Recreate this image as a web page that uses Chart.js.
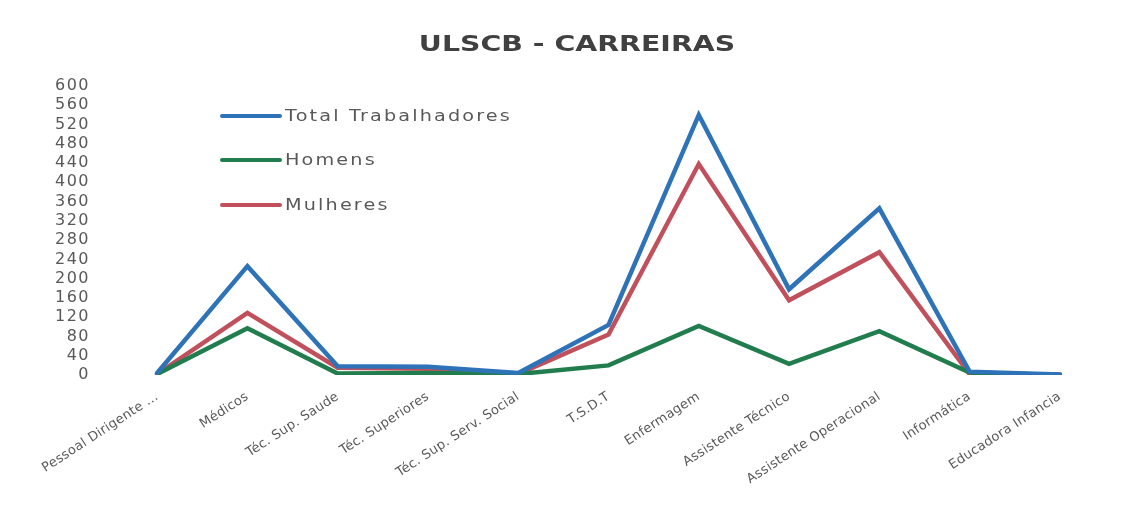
<!DOCTYPE html>
<html>
<head>
<meta charset="utf-8">
<script src="https://cdn.jsdelivr.net/npm/chart.js@4.4.1/dist/chart.umd.min.js"></script>
<style>
  html, body { margin: 0; padding: 0; background: #fff; }
  #wrap { width: 1128px; height: 516px; }
</style>
</head>
<body>
<div id="wrap"><canvas id="carreiras" width="1128" height="516"></canvas></div>
<script>
// data
const categories = ['Pessoal Dirigente ...', 'Médicos', 'Téc. Sup. Saude', 'Téc. Superiores', 'Téc. Sup. Serv. Social',
  'T.S.D.T', 'Enfermagem', 'Assistente Técnico', 'Assistente Operacional', 'Informática', 'Educadora Infancia'];
const totalTrabalhadores = [4, 226, 18, 17, 4, 104, 540, 178, 346, 7, 1];
const homens = [2, 97, 3, 4, 2, 20, 102, 23, 91, 5, 0];
const mulheres = [2, 129, 15, 13, 2, 84, 438, 155, 255, 2, 1];
const yTicks = [0, 40, 80, 120, 160, 200, 240, 280, 320, 360, 400, 440, 480, 520, 560, 600];
const chartTitle = 'ULSCB - CARREIRAS';

const textGrey = '#595959';

// the original text is wide-set, so axis labels get a bit of letter spacing
function spaceLabels(scale, spacing) {
  if (scale._spaced) return;
  const orig = scale.drawLabels;
  scale.drawLabels = function (area) {
    const ctx = this.ctx;
    ctx.save();
    ctx.letterSpacing = spacing;
    orig.call(this, area);
    ctx.restore();
  };
  scale._spaced = true;
}

// text stretched sideways like the (wide) original
function wideText(ctx, text, x, y, sx, spacing) {
  ctx.save();
  ctx.translate(x, y);
  ctx.scale(sx, 1);
  ctx.letterSpacing = spacing || '0px';
  ctx.fillText(text, 0, 0);
  ctx.restore();
}

// title + legend drawn by hand, stacked legend sits inside the plot
const titleAndLegend = {
  id: 'titleAndLegend',
  afterLayout(chart) {
    spaceLabels(chart.scales.y, '1.5px');
    spaceLabels(chart.scales.x, '0.3px');
  },
  afterDraw(chart) {
    const ctx = chart.ctx;
    ctx.save();
    ctx.fillStyle = '#404040';
    ctx.font = 'bold 22px "DejaVu Sans"';
    ctx.textAlign = 'center';
    ctx.textBaseline = 'middle';
    wideText(ctx, chartTitle, 577, 45, 1.29);

    const rows = [116, 160, 205];
    ctx.textAlign = 'left';
    ctx.font = '16px "DejaVu Sans"';
    chart.data.datasets.forEach((ds, i) => {
      const y = rows[i];
      ctx.strokeStyle = ds.borderColor;
      ctx.lineWidth = 4;
      ctx.lineCap = 'round';
      ctx.beginPath();
      ctx.moveTo(222, y);
      ctx.lineTo(280, y);
      ctx.stroke();
      ctx.fillStyle = textGrey;
      wideText(ctx, ds.label, 285, y + 1, 1.2, '1.8px');
    });
    ctx.restore();
  }
};

const data = {
  labels: categories,
  datasets: [
    { label: 'Total Trabalhadores', data: totalTrabalhadores, borderColor: 'rgb(46,114,184)' },
    { label: 'Homens', data: homens, borderColor: 'rgb(34,125,78)' },
    { label: 'Mulheres', data: mulheres, borderColor: 'rgb(192,80,92)' }
  ]
};

const config = {
  type: 'line',
  data,
  options: {
    responsive: false,
    animation: false,
    layout: { padding: { left: 0, right: 23, top: 86, bottom: 0 } },
    elements: {
      line: { borderWidth: 4.5, tension: 0, borderCapStyle: 'round', borderJoinStyle: 'miter' },
      point: { radius: 0 }
    },
    plugins: {
      legend: { display: false },
      tooltip: { enabled: false },
      title: { display: false }
    },
    scales: {
      x: {
        offset: true,
        grid: { display: false, drawTicks: false },
        border: { display: false },
        afterFit(scale) { scale.height = 141; },
        ticks: {
          autoSkip: false,
          minRotation: 33,
          maxRotation: 33,
          padding: 14,
          color: textGrey,
          font: { family: 'DejaVu Sans', size: 13 }
        }
      },
      y: {
        min: 0,
        max: 600,
        grid: { display: false, drawTicks: false },
        border: { display: false },
        afterFit(scale) { scale.width = 112; },
        afterBuildTicks(scale) { scale.ticks = yTicks.map(v => ({ value: v })); },
        ticks: {
          autoSkip: false,
          padding: 22,
          color: textGrey,
          font: { family: 'DejaVu Sans', size: 16 }
        }
      }
    }
  },
  plugins: [titleAndLegend]
};

const myChart = new Chart(document.getElementById('carreiras'), config);
</script>
</body>
</html>
